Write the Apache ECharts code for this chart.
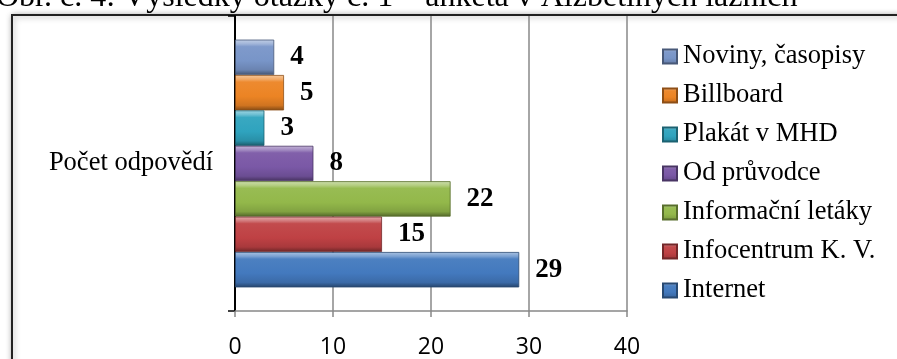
<!DOCTYPE html>
<html>
<head>
<meta charset="utf-8">
<script src="https://cdn.jsdelivr.net/npm/echarts@6/dist/echarts.min.js"></script>
<style>
html,body{margin:0;padding:0;background:#fff;}
#c{width:897px;height:359px;}
</style>
</head>
<body>
<div id="c"></div>
<script>
var titleText = 'Obr. č. 4: Výsledky otázky č. 1 – anketa v Alžbětiných lázních';
var categories = ['Počet odpovědí'];
var seriesNames = ['Noviny, časopisy', 'Billboard', 'Plakát v MHD', 'Od průvodce', 'Informační letáky', 'Infocentrum K. V.', 'Internet'];
var seriesValues = [4, 5, 3, 8, 22, 15, 29];
var xTicks = [0, 10, 20, 30, 40];
var baseColors = ['#7895C8', '#EC8424', '#2FA3BE', '#7A58A6', '#93B84A', '#BF4144', '#4379BE'];

function shade(hex, f) {
  var r = parseInt(hex.substr(1,2),16), g = parseInt(hex.substr(3,2),16), b = parseInt(hex.substr(5,2),16);
  function m(c){ return Math.max(0, Math.min(255, Math.round(f > 0 ? c + (255 - c) * f : c * (1 + f)))); }
  return 'rgb(' + m(r) + ',' + m(g) + ',' + m(b) + ')';
}
function grad(hex) {
  return new echarts.graphic.LinearGradient(0, 0, 0, 1, [
    {offset: 0, color: shade(hex, 0.55)},
    {offset: 0.12, color: shade(hex, 0.3)},
    {offset: 0.2, color: shade(hex, 0.05)},
    {offset: 0.6, color: hex},
    {offset: 0.86, color: shade(hex, -0.12)},
    {offset: 1, color: shade(hex, -0.45)}
  ]);
}

var chart = echarts.init(document.getElementById('c'), null, {renderer: 'canvas'});
var series = seriesNames.map(function (name, i) {
  return {
    name: name,
    type: 'bar',
    data: [seriesValues[i]],
    barGap: '0%',
    barCategoryGap: '16%',
    itemStyle: {color: grad(baseColors[i]), borderColor: shade(baseColors[i], -0.4), borderWidth: 0.8},
    label: {
      show: true, position: 'right', distance: 16,
      fontFamily: 'Liberation Serif', fontWeight: 'bold', fontSize: 27, color: '#000'
    }
  };
});

chart.setOption({
  animation: false,
  backgroundColor: '#fff',
  title: {
    text: titleText, left: -4, top: -18, padding: 0,
    textStyle: {fontFamily: 'Liberation Serif', fontWeight: 'normal', fontSize: 32, color: '#000'}
  },
  graphic: [{
    type: 'rect', left: 11, top: 14, z: -10, silent: true,
    shape: {width: 900, height: 400},
    style: {fill: '#fff', stroke: '#222', lineWidth: 2, shadowBlur: 6, shadowColor: 'rgba(0,0,0,0.35)', shadowOffsetX: 1, shadowOffsetY: 1}
  }],
  legend: {
    orient: 'vertical', left: 657, top: 38,
    data: seriesNames,
    icon: 'rect', itemWidth: 14, itemHeight: 14, itemGap: 12,
    textStyle: {fontFamily: 'Liberation Serif', fontSize: 26.5, color: '#000', lineHeight: 26, padding: [0, 0, 0, 1]}
  },
  grid: {left: 235, right: 270, top: 16, bottom: 48, containLabel: false},
  xAxis: {
    type: 'value', min: xTicks[0], max: xTicks[xTicks.length - 1], interval: 10,
    axisLine: {show: true, lineStyle: {color: '#888', width: 1.5}},
    axisTick: {show: true, length: 6, lineStyle: {color: '#888', width: 1.5}},
    splitLine: {show: true, lineStyle: {color: '#888', width: 1.5}},
    axisLabel: {fontFamily: 'Open Sans', fontSize: 23, color: '#000', margin: 25,
      formatter: function (v) { return xTicks.indexOf(v) >= 0 ? String(v) : ''; }}
  },
  yAxis: {
    type: 'category', data: categories,
    axisLine: {show: true, lineStyle: {color: '#000', width: 2}},
    axisTick: {show: true, length: 7, lineStyle: {color: '#000', width: 1.5}},
    axisLabel: {fontFamily: 'Liberation Serif', fontSize: 26.5, color: '#000', margin: 22}
  },
  series: series
});
</script>
</body>
</html>
